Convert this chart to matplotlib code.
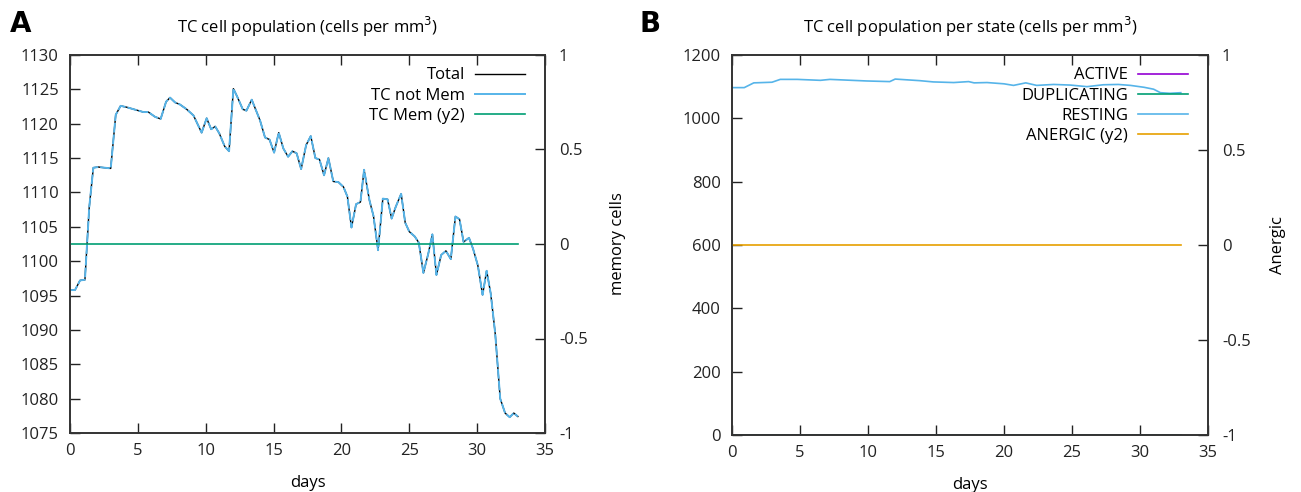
import numpy as np
import matplotlib
matplotlib.use("Agg")
from matplotlib import pyplot as plt

plt.rcParams['font.family'] = ['Open Sans', 'DejaVu Sans']
plt.rcParams['font.size'] = 12

# panel A: TC cell population
days_a = [0, 0.37, 0.74, 1.1, 1.42, 1.72, 2.09, 3.0, 3.37, 3.73, 4.18, 5.4, 5.77,
          6.27, 6.68, 7.08, 7.37, 7.74, 8.1, 8.6, 9.1, 9.7, 10.07, 10.4, 10.7, 11.0,
          11.4, 11.72, 12.04, 12.33, 12.73, 13.0, 13.39, 14.0, 14.37, 14.7, 15.04,
          15.38, 15.72, 16.07, 16.39, 16.7, 17.03, 17.4, 17.74, 18.08, 18.38, 18.72,
          19.04, 19.4, 19.78, 20.15, 20.44, 20.74, 21.08, 21.4, 21.67, 22.06, 22.36,
          22.7, 23.05, 23.4, 23.7, 24.0, 24.4, 24.7, 25.0, 25.4, 25.7, 26.04, 26.4,
          26.7, 27.0, 27.35, 27.7, 28.06, 28.4, 28.7, 29.0, 29.4, 29.7, 30.05, 30.4,
          30.7, 31.0, 31.33, 31.7, 32.06, 32.4, 32.7, 33.0]
total = [1095.8, 1095.8, 1097.2, 1097.3, 1107.9, 1113.6, 1113.7, 1113.5, 1121.3,
         1122.6, 1122.4, 1121.7, 1121.7, 1121.0, 1120.7, 1123.2, 1123.8, 1123.1,
         1122.8, 1122.1, 1121.2, 1118.7, 1120.8, 1119.2, 1119.6, 1118.6, 1116.7,
         1116.0, 1125.1, 1123.9, 1122.1, 1121.9, 1123.5, 1120.5, 1118.0, 1117.7,
         1115.8, 1118.7, 1116.4, 1115.2, 1116.0, 1115.7, 1113.4, 1116.9, 1118.2,
         1115.0, 1114.8, 1112.5, 1115.0, 1111.6, 1111.5, 1110.8, 1109.4, 1104.9,
         1108.3, 1108.6, 1113.3, 1108.9, 1106.6, 1101.6, 1109.1, 1109.0, 1106.2,
         1107.9, 1109.8, 1105.6, 1104.3, 1103.6, 1102.7, 1098.3, 1101.1, 1103.9,
         1098.0, 1100.9, 1101.5, 1100.3, 1106.5, 1106.1, 1102.8, 1103.4, 1101.8,
         1099.4, 1095.1, 1098.6, 1095.3, 1089.5, 1080.0, 1077.9, 1077.3, 1077.9,
         1077.4]
not_mem = list(total)
mem_days = [0, 33]
mem = [0, 0]

# panel B: TC cell population per state
days_b = [0, 0.9, 1.6, 2.94, 3.55, 4.8, 6.5, 7.2, 9.9, 11.6, 12.0, 13.8, 14.8, 16.3,
          17.4, 17.8, 18.75, 20.0, 20.7, 21.6, 22.4, 23.65, 24.9, 26.1, 27.3, 28.4,
          29.3, 30.3, 31.0, 31.5, 32.2, 33.0]
resting = [1097, 1097, 1112, 1114, 1123, 1123, 1120, 1123, 1118, 1116, 1124, 1119,
           1115, 1113, 1116, 1112, 1113, 1109, 1104, 1112, 1104, 1107, 1105, 1100,
           1106, 1107, 1104, 1098, 1092, 1081, 1079, 1081]
active = [0, 0]
duplicating = [0, 0]
state_days = [0, 33]
anergic = [0, 0]

W, H = 1301, 492
fig = plt.figure(figsize=(W / 100, H / 100), dpi=100)


def style(ax, ax2):
    for a in (ax, ax2):
        for s in a.spines.values():
            s.set_color('#333333')
            s.set_linewidth(1.2)
    ax.tick_params(axis='x', direction='in', top=True, length=7, width=1, pad=7, colors='#222222')
    ax.tick_params(axis='y', direction='in', length=7, width=1, pad=8, colors='#222222')
    ax2.tick_params(axis='y', direction='in', length=7, width=1, pad=10, colors='#222222')


def legend(ax, handles):
    return ax.legend(handles=handles, loc='upper right', frameon=False,
                     bbox_to_anchor=(1, 1.02), markerfirst=False,
                     handlelength=3.0, handletextpad=0.6, labelspacing=0.25,
                     borderaxespad=0.8, fontsize=12)


# ---- A ----
ax = fig.add_axes([70 / W, 1 - 433 / H, 475 / W, 378 / H])
ax2 = ax.twinx()
l1, = ax.plot(days_a, total, color='black', lw=1.0, label='Total')
l2, = ax.plot(days_a, not_mem, color='#56b4e9', lw=1.4, dashes=(5, 1), label='TC not Mem')
l3, = ax2.plot(mem_days, mem, color='#009e73', lw=1.2, label='TC Mem (y2)')
ax.set_xlim(0, 35)
ax.set_ylim(1075, 1130)
ax.set_xticks(np.arange(0, 36, 5))
ax.set_yticks(np.arange(1075, 1131, 5))
ax2.set_ylim(-1, 1)
ax2.set_yticks([-1, -0.5, 0, 0.5, 1])
ax2.set_yticklabels(['-1', '-0.5', '0', '0.5', '1'])
ax.set_xlabel('days', labelpad=12)
ax2.set_ylabel('memory cells', labelpad=16)
ax.set_title('TC cell population (cells per mm$^3$)', fontsize=12, pad=16)
style(ax, ax2)
leg = legend(ax2, [l1, l2, l3])
leg.legend_handles[1].set_dashes((None, None))
fig.text(10 / W, 1 - 24 / H, 'A', fontsize=20, fontweight='bold', va='center',
         family='DejaVu Sans')

# ---- B ----
bx = fig.add_axes([732 / W, 1 - 435 / H, 476 / W, 380 / H])
bx2 = bx.twinx()
m1, = bx.plot(state_days, active, color='#9400d3', lw=1.2, label='ACTIVE')
m2, = bx.plot(state_days, duplicating, color='#009e73', lw=1.2, label='DUPLICATING')
m3, = bx.plot(days_b, resting, color='#56b4e9', lw=1.2, label='RESTING')
m4, = bx2.plot(state_days, anergic, color='#e69f00', lw=1.2, label='ANERGIC (y2)')
bx.set_xlim(0, 35)
bx.set_ylim(0, 1200)
bx.set_xticks(np.arange(0, 36, 5))
bx.set_yticks(np.arange(0, 1201, 200))
bx2.set_ylim(-1, 1)
bx2.set_yticks([-1, -0.5, 0, 0.5, 1])
bx2.set_yticklabels(['-1', '-0.5', '0', '0.5', '1'])
bx.set_xlabel('days', labelpad=12)
bx2.set_ylabel('Anergic', labelpad=14)
bx.set_title('TC cell population per state (cells per mm$^3$)', fontsize=12, pad=16)
style(bx, bx2)
legend(bx2, [m1, m2, m3, m4])
fig.text(640 / W, 1 - 24 / H, 'B', fontsize=20, fontweight='bold', va='center',
         family='DejaVu Sans')

fig.savefig('out.png', dpi=100)
